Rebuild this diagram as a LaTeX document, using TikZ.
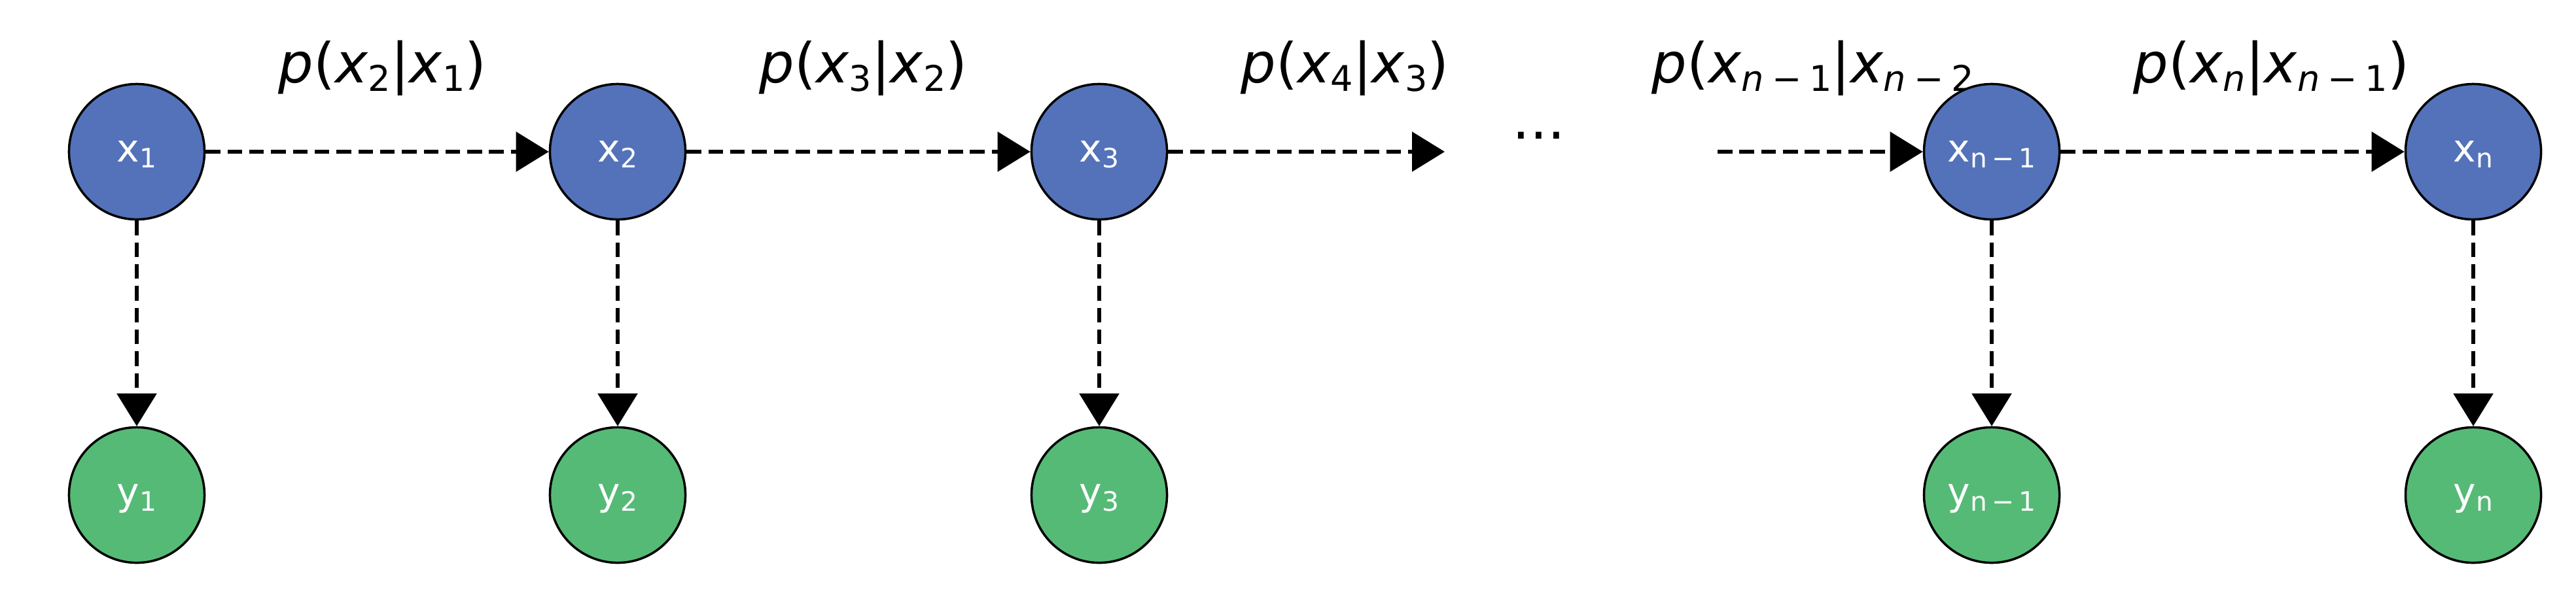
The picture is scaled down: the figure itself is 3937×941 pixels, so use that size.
\documentclass[tikz,border=0pt]{standalone}
\usepackage{fontspec}
\setmainfont{DejaVu Sans}
\usetikzlibrary{arrows.meta,calc}
\definecolor{nblue}{RGB}{84,114,185}
\definecolor{ngreen}{RGB}{85,186,118}
\newcommand{\esub}[1]{\lower0.16em\hbox{\fontsize{15.4}{16}\selectfont #1}}
\newcommand{\nsub}[1]{\lower0.17em\hbox{\fontsize{11.6}{12}\selectfont #1}}
\newcommand{\emin}{\hspace{0.22em}−\hspace{0.22em}}
\begin{document}
\begin{tikzpicture}[x=0.01cm,y=-0.01cm,
  xnode/.style={circle,draw=black,line width=0.035cm,fill=nblue,minimum size=2.07cm,inner sep=0pt,text=white,font=\fontsize{16.6}{20}\selectfont,text height=0.3cm,text depth=0cm},
  ynode/.style={xnode,fill=ngreen},
  elabel/.style={anchor=base west,inner sep=0pt,font=\fontsize{24}{28}\selectfont},
  link/.style={line width=0.06cm,dash pattern=on 0.225cm off 0.108cm,-{Triangle[length=0.5cm,width=0.6cm]}}]
\useasboundingbox (0,0) rectangle (3937,941);
% edge labels
\node[elabel] (l12) at (425,126) {\textit{p}(\textit{x}\esub{2}|\textit{x}\esub{1})};
\node[elabel] (l23) at (1160,126) {\textit{p}(\textit{x}\esub{3}|\textit{x}\esub{2})};
\node[elabel] (l34) at (1896,126) {\textit{p}(\textit{x}\esub{4}|\textit{x}\esub{3})};
\node[elabel] (lmm) at (2524,126) {\textit{p}(\textit{x}\esub{\textit{n}\emin 1}|\textit{x}\esub{\textit{n}\emin 2}};
\node[elabel] (lnm) at (3260,126) {\textit{p}(\textit{x}\esub{\textit{n}}|\textit{x}\esub{\textit{n}\emin 1})};
\node[elabel] (dots) at (2311,212) {...};
% nodes
\node[xnode] (x1) at (209,232) {x\nsub{1}};
\node[xnode] (x2) at (944,232) {x\nsub{2}};
\node[xnode] (x3) at (1680,232) {x\nsub{3}};
\node[xnode] (xm) at (3044,232) {x\nsub{n\,−\,1}};
\node[xnode] (xn) at (3780,232) {x\nsub{n}};
\node[ynode] (y1) at (209,757) {y\nsub{1}};
\node[ynode] (y2) at (944,757) {y\nsub{2}};
\node[ynode] (y3) at (1680,757) {y\nsub{3}};
\node[ynode] (ym) at (3044,757) {y\nsub{n\,−\,1}};
\node[ynode] (yn) at (3780,757) {y\nsub{n}};
\coordinate (e3) at (2208,232);
\coordinate (s4) at (2625,232);
% connectors
\draw[link] (x1) -- (x2);
\draw[link] (x2) -- (x3);
\draw[link] (x3) -- (e3);
\draw[link] (s4) -- (xm);
\draw[link] (xm) -- (xn);
\draw[link] (x1) -- (y1);
\draw[link] (x2) -- (y2);
\draw[link] (x3) -- (y3);
\draw[link] (xm) -- (ym);
\draw[link] (xn) -- (yn);
\end{tikzpicture}
\end{document}
